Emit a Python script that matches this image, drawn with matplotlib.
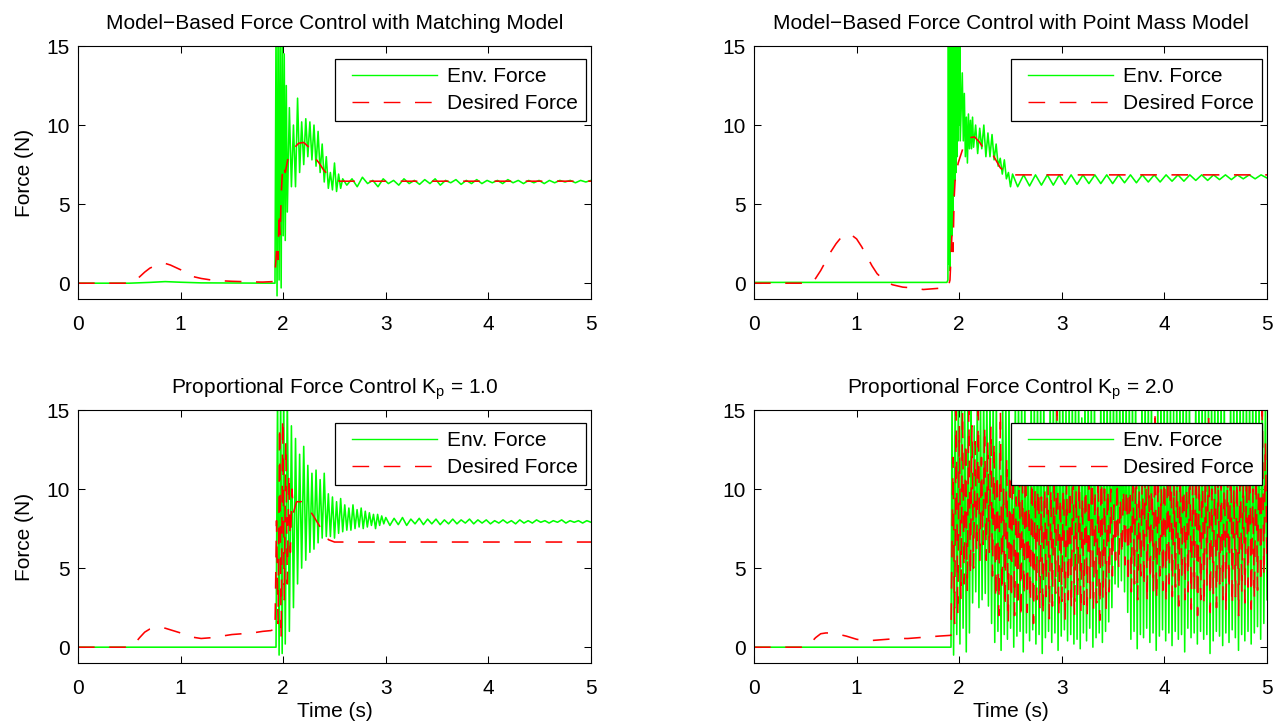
import numpy as np
import matplotlib
matplotlib.use("Agg")
import matplotlib.pyplot as plt
from matplotlib.legend_handler import HandlerLine2D
from matplotlib.lines import Line2D

plt.rcParams['font.family'] = ['Liberation Sans', 'DejaVu Sans']
plt.rcParams['mathtext.fontset'] = 'custom'
plt.rcParams['mathtext.rm'] = 'Liberation Sans'
plt.rcParams['mathtext.it'] = 'Liberation Sans'
plt.rcParams['mathtext.default'] = 'regular'
plt.rcParams['lines.scale_dashes'] = False

# ---------------- data ----------------
titles = ["Model\u2212Based Force Control with Matching Model",
          "Model\u2212Based Force Control with Point Mass Model",
          "Proportional Force Control K$_p$ = 1.0",
          "Proportional Force Control K$_p$ = 2.0"]
legend_labels = ["Env. Force", "Desired Force"]
x_ticks = [0, 1, 2, 3, 4, 5]
y_ticks = [0, 5, 10, 15]

# Panel 1: matching model
des1_t = [0, 0.5, 0.55, 0.6, 0.65, 0.7, 0.75, 0.8, 0.85, 0.9, 0.95, 1.0, 1.05, 1.1, 1.2, 1.3,
          1.4, 1.5, 1.6, 1.7, 1.8, 1.9, 1.92, 1.94, 1.95, 1.96, 1.97, 1.98, 1.99, 2.0, 2.02,
          2.05, 2.1, 2.15, 2.2, 2.25, 2.3, 2.35, 2.4, 2.45, 2.5, 2.55, 5.0]
des1_f = [0, 0, 0.15, 0.4, 0.7, 0.95, 1.1, 1.2, 1.25, 1.15, 1.0, 0.85, 0.6, 0.45, 0.3, 0.2,
          0.15, 0.12, 0.1, 0.08, 0.07, 0.1, 0.6, 2.5, 1.5, 4.5, 3.0, 5.5, 6.8, 7.5, 7.0,
          8.0, 8.5, 8.85, 8.9, 8.6, 8.0, 7.6, 7.1, 6.8, 6.6, 6.45, 6.45]
env1_pre_t = [0, 0.5, 0.7, 0.85, 1.0, 1.2, 1.92]
env1_pre_f = [0, 0, 0.05, 0.1, 0.06, 0.02, 0.0]
env1_burst = [16, -0.8, 16, 0.2, 16, -0.3, 16, 3.0, 14.5, 2.7, 12.5, 4.5]          # 1.93 .. 2.04
env1_decay = [11.1, 6.1, 10.0, 6.1, 11.7, 7.0, 10.2, 7.5, 10.4, 8.0, 10.2, 7.8, 10.0,
              7.4, 9.6, 7.0, 8.8, 6.4, 8.0, 6.0, 7.0, 5.9, 7.6, 5.8, 6.9, 6.0, 6.6]  # 2.06 .. 2.58
env1_ripple = [6.2, 6.6, 6.1, 6.7, 6.3, 6.5, 6.1, 6.6, 6.3, 6.5, 6.2, 6.6, 6.3, 6.5, 6.25,
               6.55, 6.3, 6.6, 6.2, 6.5, 6.35, 6.55, 6.25, 6.5, 6.3, 6.55, 6.3, 6.5, 6.35,
               6.5, 6.3, 6.55, 6.35, 6.5, 6.3, 6.5, 6.35, 6.5, 6.3, 6.5, 6.35, 6.5, 6.4,
               6.5, 6.35, 6.5, 6.4, 6.5]                                           # 2.62 .. 5.0

# Panel 2: point mass model
des2_t = [0, 0.55, 0.6, 0.65, 0.7, 0.75, 0.8, 0.85, 0.9, 0.95, 1.0, 1.05, 1.1, 1.15, 1.2,
          1.25, 1.3, 1.35, 1.45, 1.55, 1.65, 1.75, 1.85, 1.89, 1.91, 1.93, 1.94, 1.95, 1.96,
          1.99, 2.04, 2.1, 2.15, 2.2, 2.25, 2.33, 2.4, 2.48, 2.5, 5.0]
des2_f = [0, 0, 0.3, 0.8, 1.4, 2.0, 2.5, 2.9, 3.1, 3.05, 2.8, 2.3, 1.7, 1.1, 0.6,
          0.3, 0.05, -0.1, -0.25, -0.3, -0.4, -0.35, -0.3, -0.3, 0.2, 3.2, 2.0, 5.3, 6.5,
          7.6, 8.6, 9.2, 9.25, 8.9, 8.4, 8.1, 7.3, 6.9, 6.85, 6.85]
env2_pre_t = [0, 1.88]
env2_pre_f = [0.05, 0.05]
env2_burst = [0.2, 16, 1.2, 16, 0.8, 16, 2.5, 16, 3.0, 16, 4.5, 16, 5.5, 16, 6.5, 16,
              7.0, 16, 8.0, 16, 9.0, 16, 10.0, 16, 9.0]                              # 1.89 .. 2.01
env2_decay_a = [13.3, 9.0, 12.0, 8.0, 10.5, 7.6, 10.7, 8.5, 10.3, 8.5, 10.5, 8.6]      # 2.03 .. 2.14
env2_decay_b = [10.0, 8.2, 9.8, 8.5, 10.0, 8.0, 9.5, 8.0, 9.4, 7.8, 8.8, 7.4, 7.9, 6.9,
                7.8, 6.6, 7.0, 6.1, 6.9]                                             # 2.16 .. 2.52
env2_ripple = [6.1, 6.85, 6.15, 6.85, 6.2, 6.85, 6.2, 6.85, 6.25, 6.85, 6.25, 6.85, 6.3,
               6.85, 6.3, 6.85, 6.3, 6.85, 6.35, 6.85, 6.35, 6.85, 6.4, 6.85, 6.4, 6.85,
               6.45, 6.85, 6.45, 6.85, 6.5, 6.85, 6.5, 6.85, 6.55, 6.85, 6.55, 6.85, 6.6,
               6.85, 6.6, 6.85, 6.65]                                                # 2.57 .. 5.0

# Panel 3: proportional Kp = 1.0
des3_pre_t = [0, 0.5, 0.55, 0.6, 0.65, 0.7, 0.75, 0.8, 0.85, 0.9, 0.95, 1.0, 1.05, 1.1, 1.2,
              1.3, 1.4, 1.5, 1.6, 1.7, 1.8, 1.88, 1.9, 1.92]
des3_pre_f = [0, 0, 0.2, 0.6, 0.95, 1.15, 1.25, 1.25, 1.2, 1.1, 1.0, 0.9, 0.75, 0.65, 0.55,
              0.6, 0.7, 0.8, 0.85, 0.9, 1.0, 1.05, 1.1, 1.0]
des3_osc = [8, 1.5, 14, 0.5, 14.5, 3, 13, 4, 11, 6, 10]                               # 1.935 .. 2.085
des3_post_t = [2.1, 2.13, 2.18, 2.22, 2.29, 2.36, 2.41, 2.44, 2.5, 5.0]
des3_post_f = [8.5, 9.2, 9.2, 9.0, 8.35, 7.6, 7.3, 6.8, 6.65, 6.65]
env3_pre_t = [0, 1.93]
env3_pre_f = [0, 0]
env3_burst = [16, -0.5, 16, -0.4, 16, 0.2]                                            # 1.945 .. 2.02
env3_decay = [16, 1.0, 14.0, 2.5, 13.2, 4.0, 12.2, 5.0, 12.7, 5.5, 11.5, 6.0, 11.0, 6.2,
              11.2, 6.6, 10.6, 6.9, 11.0, 7.0, 9.7, 7.0, 9.5, 6.9, 9.2, 7.2, 9.4, 7.3, 9.0,
              7.4, 8.8, 7.4, 9.0, 7.5, 8.7, 7.6, 8.8, 7.5, 8.6, 7.6, 8.5, 7.7, 8.4, 7.5,
              8.4, 7.7, 8.3, 7.8, 8.2]                                               # 2.04 .. 3.0
env3_ripple = [7.7, 8.15, 7.75, 8.2, 7.7, 8.1, 7.8, 8.15, 7.75, 8.1, 7.8, 8.1, 7.75, 8.05,
               7.8, 8.1, 7.8, 8.05, 7.85, 8.1, 7.8, 8.05, 7.85, 8.05, 7.8, 8.0, 7.85, 8.05,
               7.85, 8.0, 7.8, 8.05, 7.85, 8.0, 7.85, 8.05, 7.9, 8.0, 7.85, 8.0, 7.9, 8.05,
               7.85, 8.0, 7.9, 8.0, 7.85, 8.0, 7.9]                                  # 3.04 .. 5.0

# Panel 4: proportional Kp = 2.0
des4_pre_t = [0, 0.5, 0.55, 0.6, 0.65, 0.7, 0.75, 0.8, 0.9, 1.0, 1.05, 1.1, 1.2, 1.3, 1.4,
              1.5, 1.6, 1.7, 1.8, 1.92]
des4_pre_f = [0, 0, 0.25, 0.6, 0.85, 0.9, 0.9, 0.85, 0.7, 0.5, 0.45, 0.4, 0.45, 0.5, 0.55,
              0.55, 0.6, 0.65, 0.7, 0.75]
env4_pre_t = [0, 1.92]
env4_pre_f = [0, 0]
# (high, low) of each oscillation cycle, 1.93 .. 5.0
env4_pairs = [(16, -0.5), (16, 0.8), (16, 0.2), (16, 1.2), (16, -0.3), (16, 0.9),
              (16, 2.8), (14, 3.5), (16, 2.5), (15.5, 3.0), (16, 3.4), (16, 2.6), (16, 1.5),
              (16, 0.3), (16, 1.0), (13, -0.2), (16, 0.8), (16, 0.5), (16, 1.2), (12, 0.0),
              (16, 0.7), (16, 1.0), (16, -0.3), (16, 0.9), (14, 0.4), (16, 1.1), (16, 0.2),
              (16, 0.8), (16, -0.4), (16, 0.6), (13, 1.0), (16, 0.3), (16, 0.9), (16, -0.2),
              (16, 0.7), (16, 1.1), (15, 0.4), (16, 0.8), (16, 0.2), (16, 0.5), (16, -0.1),
              (14.5, 0.9), (16, 0.4), (16, 1.2), (16, 0.0), (16, 0.6), (13, 0.9), (16, 0.3),
              (16, 1.0), (16, 1.6),
              (16, 2.5), (16, 4.0), (16, 3.8), (16, 4.2), (16, 3.5), (16, 2.2),
              (16, 0.5), (16, 1.0), (16, -0.1), (14, 0.8), (16, 0.6), (16, 1.2), (16, 0.3),
              (16, 0.9), (12.5, -0.2), (16, 0.7), (16, 1.1), (16, 0.4), (16, 0.9), (16, 0.1),
              (15, 1.0), (16, 0.5), (16, 0.8), (16, -0.3), (16, 1.2), (16, 0.6), (13.5, 0.9),
              (16, 0.2), (16, 1.0), (16, 0.5), (16, 0.8), (16, -0.4), (16, 0.4), (16, 1.0),
              (16, 0.7), (16, 0.1), (16, 0.9), (14, 0.3), (16, 1.1), (16, 0.6), (16, -0.2),
              (16, 0.8), (16, 0.4), (16, 1.0), (16, 0.2), (16, 0.9), (16, 1.3), (16, 0.5),
              (16, 1.5), (16, 3.0)]
des4_pairs = [(12, 1.5), (15, 2.0), (14, 3.0), (15, 4.0), (13, 3.5), (15, 4.5),
              (14, 5.0), (13, 6.0), (15, 5.5), (12, 6.5), (14, 5.5), (13, 6.0), (14, 4.5),
              (13, 3.0), (11, 2.0), (15, 3.5), (10, 2.5), (12, 1.5), (11, 3.0), (14, 2.0),
              (9.5, 2.5), (12, 1.8), (10.5, 3.2), (13, 2.2), (9, 2.8), (11.5, 1.5), (10, 3.0),
              (14, 2.5), (9.5, 2.0), (11, 3.2), (12.5, 1.8), (10, 2.6), (11, 3.4), (15, 2.0),
              (9.5, 2.9), (12, 1.6), (10.5, 3.0), (11, 2.4), (13, 2.0), (10, 3.3), (11.5, 2.1),
              (9.5, 2.7), (12, 1.9), (10.5, 3.1), (13.5, 2.3), (10, 2.8), (11, 1.7),
              (12.5, 3.0), (10, 2.4), (11, 3.5),
              (10, 4.5), (9, 5.5), (10.5, 5.0), (9.5, 5.8), (10, 5.2), (11, 4.0),
              (12, 3.5), (11, 4.0), (14, 3.0), (10, 4.5), (11.5, 3.8), (13, 2.8), (10.5, 4.2),
              (12, 3.5), (15, 3.0), (11, 4.5), (10, 3.6), (12.5, 2.8), (11, 4.0), (13.5, 3.2),
              (10.5, 3.8), (12, 2.6), (11, 4.4), (14, 3.0), (10, 3.5), (12, 2.4), (11.5, 3.6),
              (13, 2.0), (10.5, 3.0), (12, 2.6), (11, 3.8), (14.5, 2.2), (10, 3.4), (12.5, 2.5),
              (11, 4.0), (10.5, 3.0), (12, 2.2), (11, 3.6), (13, 2.6), (10, 3.2), (11.5, 2.0),
              (12.5, 3.4), (10.5, 2.8), (11, 3.8), (13, 2.4), (10, 3.0), (12, 3.6), (14, 4.0),
              (15, 4.5), (13, 5.0)]


# ---------------- helpers ----------------
def seg(t0, t1, vals):
    return np.linspace(t0, t1, len(vals)), np.asarray(vals, float)


def join(*parts):
    t = np.concatenate([np.asarray(p[0], float) for p in parts])
    f = np.concatenate([np.asarray(p[1], float) for p in parts])
    return t, f


def flat_pairs(pairs):
    return [v for p in pairs for v in p]


series = []
series.append((join((env1_pre_t, env1_pre_f), seg(1.93, 2.04, env1_burst),
                    seg(2.06, 2.58, env1_decay), seg(2.62, 5.0, env1_ripple)),
               (np.array(des1_t), np.array(des1_f))))
series.append((join((env2_pre_t, env2_pre_f), seg(1.89, 2.01, env2_burst),
                    seg(2.03, 2.14, env2_decay_a), seg(2.16, 2.52, env2_decay_b),
                    seg(2.57, 5.0, env2_ripple)),
               (np.array(des2_t), np.array(des2_f))))
series.append((join((env3_pre_t, env3_pre_f), seg(1.945, 2.02, env3_burst),
                    seg(2.04, 3.0, env3_decay), seg(3.04, 5.0, env3_ripple)),
               join((des3_pre_t, des3_pre_f), seg(1.935, 2.085, des3_osc),
                    (des3_post_t, des3_post_f))))
series.append((join((env4_pre_t, env4_pre_f), seg(1.93, 5.0, flat_pairs(env4_pairs))),
               join((des4_pre_t, des4_pre_f), seg(1.94, 5.0, flat_pairs(des4_pairs)))))


class ShiftedLine(HandlerLine2D):
    """Legend line sample with extra blank space on its left (MATLAB look)."""
    def create_artists(self, legend, orig_handle, xdescent, ydescent, width, height,
                       fontsize, trans):
        arts = super().create_artists(legend, orig_handle, xdescent, ydescent, width,
                                      height, fontsize, trans)
        for a in arts:
            if isinstance(a, Line2D):
                xd = np.asarray(a.get_xdata(), float)
                yd = np.asarray(a.get_ydata(), float)
                if len(xd) >= 2 and a.get_linestyle() not in ('None', 'none', ''):
                    a.set_data(np.linspace(xd[0] + 0.39 * fontsize, xd[-1], len(xd)), yd)
        return arts


# ---------------- figure ----------------
FW, FH = 1278, 721
fig = plt.figure(figsize=(FW / 100, FH / 100), dpi=100)
lefts = [78, 754]
tops = [46, 410]
aw, ah = 513, 253

FS = 15
LW = 1.15
for i in range(4):
    r, c = divmod(i, 2)
    x0 = lefts[c] / FW
    y0 = 1 - (tops[r] + ah) / FH
    ax = fig.add_axes([x0, y0, aw / FW, ah / FH])
    (te, fe), (td, fd) = series[i]
    h1, = ax.plot(te, fe, color='#00ff00', lw=LW, label=legend_labels[0])
    h2, = ax.plot(td, fd, color='#ff0000', lw=LW, dashes=(12, 10.5), label=legend_labels[1])
    ax.set_xlim(0, 5)
    ax.set_ylim(-1, 15)
    ax.set_xticks(x_ticks)
    ax.set_yticks(y_ticks)
    ax.tick_params(direction='in', top=True, right=True, length=5, width=0.75,
                   labelsize=FS, colors='black')
    ax.tick_params(axis='x', pad=11.5)
    ax.tick_params(axis='y', pad=6)
    for s in ax.spines.values():
        s.set_linewidth(0.8)
    ax.set_title(titles[i], fontsize=FS, pad=12)
    if c == 0:
        ax.set_ylabel("Force (N)", fontsize=FS, labelpad=9)
    if r == 1:
        ax.set_xlabel("Time (s)", fontsize=FS, labelpad=3)
    leg = ax.legend(handles=[h1, h2], loc='upper right', bbox_to_anchor=(0.990, 0.9486),
                    borderaxespad=0, fontsize=FS, handlelength=4.47, handletextpad=0.48,
                    borderpad=0.4, labelspacing=0.36, fancybox=False, framealpha=1,
                    edgecolor='black', handler_map={Line2D: ShiftedLine()})
    leg.get_frame().set_linewidth(0.9)
    for ln in leg.get_lines():
        ln.set_linewidth(1.0)

fig.savefig("out.png", dpi=100)
